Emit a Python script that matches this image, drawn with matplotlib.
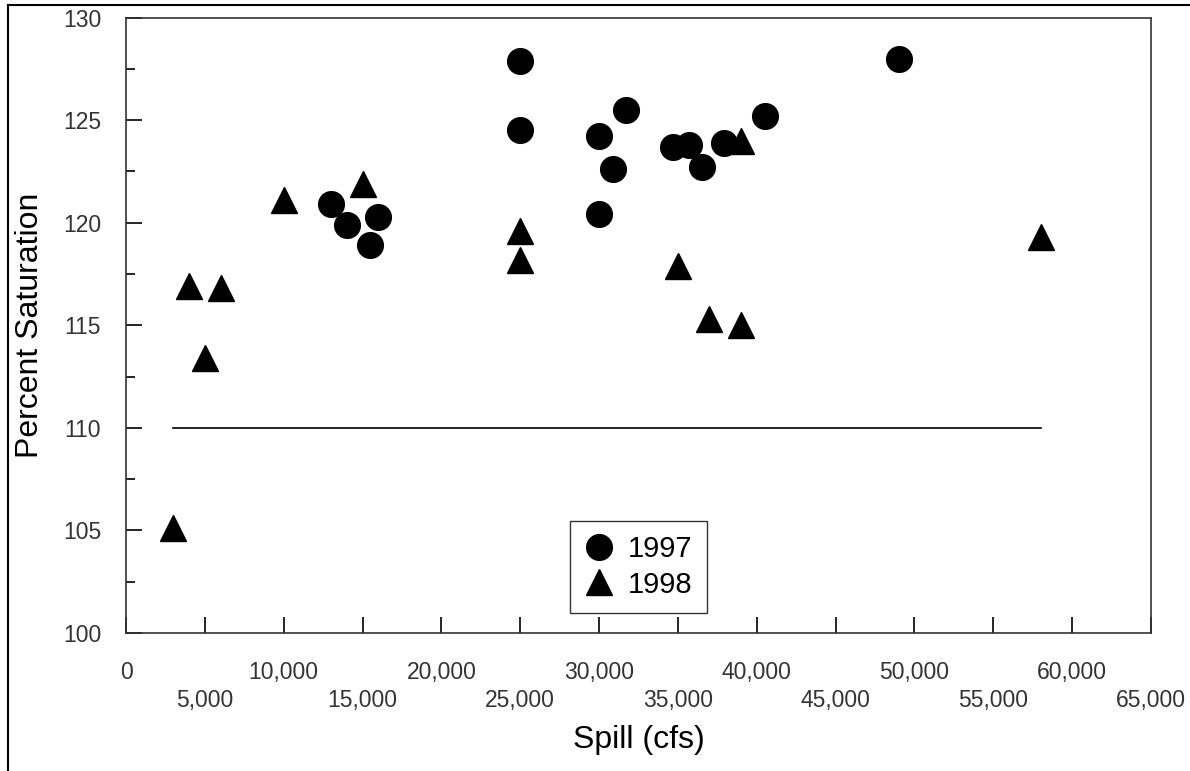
import matplotlib
matplotlib.use("Agg")
import matplotlib.pyplot as plt
from matplotlib.lines import Line2D
from matplotlib.ticker import FixedLocator, FuncFormatter

plt.rcParams['font.family'] = ['Liberation Sans', 'DejaVu Sans']

## Data
spill_1997 = [25000, 25000, 13000, 14000, 16000, 15500, 31700, 30000, 30900,
              30000, 34700, 35700, 36500, 37900, 40500, 49000]
sat_1997 = [127.9, 124.5, 120.9, 119.9, 120.3, 118.9, 125.5, 124.2, 122.6,
            120.4, 123.7, 123.8, 122.7, 123.9, 125.2, 128.0]

spill_1998 = [3000, 4000, 5000, 6000, 10000, 15000, 25000, 25000, 35000,
              37000, 39000, 39000, 58000]
sat_1998 = [105.1, 116.9, 113.4, 116.8, 121.1, 121.9, 119.6, 118.2, 117.9,
            115.3, 115.0, 124.0, 119.3]

standard_x = [3000, 58000]
standard_y = [110, 110]

x_major = [0, 10000, 20000, 30000, 40000, 50000, 60000]
x_minor = [5000, 15000, 25000, 35000, 45000, 55000, 65000]
y_major = [100, 105, 110, 115, 120, 125, 130]
y_minor = [102.5, 107.5, 112.5, 117.5, 122.5, 127.5]

## Plot
fig = plt.figure(figsize=(11.9, 7.71), dpi=100)
ax = fig.add_axes([0.1059, 0.179, 0.8613, 0.7983])

ax.plot(standard_x, standard_y, color='black', lw=1.2)
ax.plot(spill_1997, sat_1997, 'o', color='black', ms=18.5, label='1997')
ax.plot(spill_1998, sat_1998, '^', color='black', ms=19, label='1998')

ax.set_xlim(0, 65000)
ax.set_ylim(100, 130)

fmt = FuncFormatter(lambda v, p: "{:,.0f}".format(v))
ax.xaxis.set_major_locator(FixedLocator(x_major))
ax.xaxis.set_minor_locator(FixedLocator(x_minor))
ax.xaxis.set_major_formatter(fmt)
ax.xaxis.set_minor_formatter(fmt)
ax.yaxis.set_major_locator(FixedLocator(y_major))
ax.yaxis.set_minor_locator(FixedLocator(y_minor))

ax.tick_params(axis='x', which='major', direction='in', length=11.5, width=1.2,
               pad=20, labelsize=16.5, labelcolor='#333333')
ax.tick_params(axis='x', which='minor', direction='in', length=11.5, width=1.2,
               pad=40, labelsize=16.5, labelcolor='#333333')
ax.tick_params(axis='y', which='major', direction='in', length=11.5, width=1.2,
               pad=18, labelsize=16.5, labelcolor='#333333')
ax.tick_params(axis='y', which='minor', direction='in', length=6.5, width=1.2)

for s in ax.spines.values():
    s.set_linewidth(1.2)
    s.set_color('#333333')

ax.set_xlabel("Spill (cfs)", fontsize=23)
ax.set_ylabel("Percent Saturation", fontsize=23)
ax.xaxis.set_label_coords(0.5, -0.174)
ax.yaxis.set_label_coords(-0.0937, 0.5)
ax.xaxis.label.set_va('center')
ax.yaxis.label.set_va('center')

leg = ax.legend(loc='upper left', bbox_to_anchor=(0.433, 0.1825), borderaxespad=0,
                fontsize=21, frameon=True, fancybox=False, edgecolor='black',
                handlelength=1.0, handletextpad=0.5, borderpad=0.5, labelspacing=0.25)
leg.get_frame().set_linewidth(1.0)

# outer frame of the picture (top and left edges)
fig.add_artist(Line2D([0.0067, 1.0], [0.9935, 0.9935], color='black', lw=1.5))
fig.add_artist(Line2D([0.0067, 0.0067], [0.0, 0.9935], color='black', lw=1.5))

fig.savefig("out.png", dpi=100)
